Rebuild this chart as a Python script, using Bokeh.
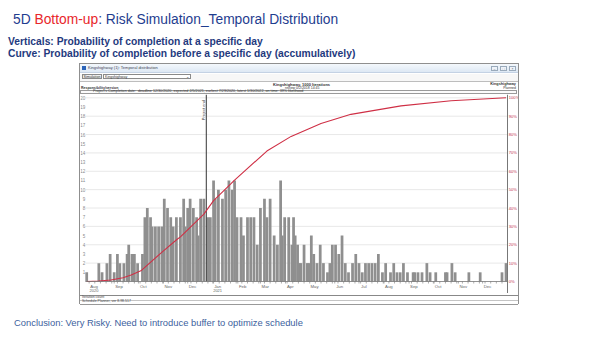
import pandas as pd
from bokeh.plotting import figure
from bokeh.models import Range1d, Div, Spacer
from bokeh.layouts import column, row
from bokeh.embed import file_html
from bokeh.resources import INLINE

# ---------------- data ----------------
earliest = "2020-07-29"          # day 0 of the time axis (earliest completion)
# days after the earliest date, and the number of iterations finishing that day
bar_days = [0, 15, 19, 25, 29, 34, 38, 41, 46, 50, 52, 56, 59, 63, 69,
            72, 75, 79, 81, 85, 89, 93, 96, 100, 104, 107, 111, 116, 120, 122,
            125, 128, 132, 136, 138, 141, 145, 150, 153, 157, 159, 163, 168, 172,
            176, 180, 183, 186, 191, 194, 199, 203, 207, 211, 215, 220, 223, 227,
            232, 236, 240, 242, 245, 250, 254, 256, 258, 261, 263, 265, 269, 273,
            275, 278, 281, 285, 289, 293, 298, 301, 304, 308, 312, 316, 320, 324,
            329, 333, 337, 341, 345, 349, 353, 357, 361, 366, 370, 376, 380, 384,
            388, 392, 397, 404, 406, 410, 415, 421, 425, 432, 444, 446, 452, 456,
            473, 487, 514, 519]
bar_counts = [1, 2, 1, 2, 3, 1, 3, 2, 2, 3, 4, 3, 3, 2, 3,
              7, 8, 7, 6, 6, 6, 6, 9, 8, 7, 6, 7, 7, 9, 6,
              8, 9, 8, 7, 5, 9, 9, 7, 7, 11, 9, 10, 9, 10,
              11, 10, 11, 7, 7, 5, 7, 7, 7, 4, 8, 9, 7, 9,
              5, 4, 11, 5, 7, 7, 4, 7, 5, 4, 2, 2, 4, 2,
              2, 5, 3, 2, 4, 2, 1, 2, 4, 4, 3, 5, 2, 1,
              2, 3, 2, 1, 2, 2, 2, 2, 3, 1, 2, 1, 2, 1,
              1, 2, 1, 1, 1, 1, 1, 2, 1, 1, 1, 1, 2, 1,
              1, 1, 1, 2]
# cumulative probability of completion (curve), percent
curve_days = [0, 15, 30, 45, 55, 67, 95, 112, 116, 145, 157, 178, 182, 223,
              253, 290, 327, 389, 451, 519]
curve_pct = [0, 0.3, 0.8, 2, 3.5, 5.8, 16.7, 23, 24.3, 36.7, 44, 53, 54.8, 71,
             79, 86, 91, 95.6, 98.4, 100]
marker_day = 148                  # "Project end" line
month_names = ["Aug", "Sep", "Oct", "Nov", "Dec", "Jan", "Feb", "Mar", "Apr",
               "May", "Jun", "Jul", "Aug", "Sep", "Oct", "Nov", "Dec"]
first_month = "2020-08-01"
year_names = ["2020", "2021"]
year_starts = ["2020-08-01", "2021-01-01"]
count_ticks = list(range(1, 21))
pct_ticks = list(range(0, 101, 10))
window_days = (-1.5, 520.8)       # visible time window of the chart
count_top = 20.36                 # top of the count scale

# ---------------- geometry ----------------
W, H = 438, 199
LEFT_PX, RIGHT_PX, BAND_PX = 5, 11, 12
xs = (W - LEFT_PX - RIGHT_PX) / (window_days[1] - window_days[0])
ys = (H - BAND_PX) / count_top
x_range = Range1d(window_days[0] - LEFT_PX / xs, window_days[1] + RIGHT_PX / xs)
y0 = -BAND_PX / ys
y_range = Range1d(y0, count_top)

t0 = pd.Timestamp(earliest)
months = pd.date_range(first_month, periods=len(month_names), freq="MS")
month_days = [int(d) for d in (months - t0).days]
label_pos = [d + 6 for d in month_days]
year_pos = [int((pd.Timestamp(s) - t0).days) + 6 for s in year_starts]
weekly = list(range(month_days[0], int(window_days[1]), 7))
minor = sorted(set(weekly + month_days))

FONT = "Liberation Sans"

# ---------------- chart ----------------
p = figure(width=W, height=H, x_range=x_range, y_range=y_range,
           output_backend="svg", toolbar_location=None,
           x_axis_location=None, y_axis_location=None,
           min_border_left=0, min_border_right=0, min_border_top=0, min_border_bottom=0)
p.background_fill_color = "white"
p.border_fill_color = "white"
p.outline_line_color = None
p.grid.visible = False
p.extra_y_ranges = {"pct": Range1d(y0 * 5, count_top * 5)}

grid_levels = list(range(2, 21, 2))
p.segment(x0=window_days[0], x1=window_days[1], y0=grid_levels, y1=grid_levels,
          line_color="#e2e2e2", line_width=0.8)

p.vbar(x=bar_days, top=bar_counts, bottom=0, width=3.4,
       fill_color="#8f8f8f", line_color=None)

# marker line
p.segment(x0=marker_day, x1=marker_day, y0=0, y1=count_top, line_color="#333333", line_width=1)
p.text(x=marker_day, y=count_top - 0.6, text=["Project end"], angle=1.5708,
       text_align="right", text_baseline="bottom", x_offset=-0.5,
       text_font_size="4px", text_color="#444444", text_font={"value": FONT})

# cumulative curve
p.line(curve_days, curve_pct, y_range_name="pct", line_color="#cf2f45", line_width=1.1)

# axes drawn in data space
p.segment(x0=window_days[0], x1=window_days[1], y0=0, y1=0, line_color="#777777", line_width=0.8)
p.segment(x0=window_days[1], x1=window_days[1], y0=y0, y1=count_top, line_color="#777777", line_width=1)
p.segment(x0=minor, x1=minor, y0=0, y1=-2 / ys, line_color="#777777", line_width=0.6)

p.text(x=window_days[0], y=count_ticks, text=[str(t) for t in count_ticks],
       text_align="right", text_baseline="middle", x_offset=-0.3,
       text_font_size="4.5px", text_color="#8a8a8a", text_font={"value": FONT})
p.text(x=window_days[1], y=pct_ticks, y_range_name="pct", text=[f"{t}%" for t in pct_ticks],
       text_align="left", text_baseline="middle", x_offset=1.3,
       text_font_size="4.1px", text_color="#c2334d", text_font={"value": FONT})
p.text(x=label_pos, y=0, text=month_names, text_align="center", text_baseline="top",
       y_offset=2.5, text_font_size="4.3px", text_color="#666666", text_font={"value": FONT})
p.text(x=year_pos, y=0, text=year_names, text_align="center", text_baseline="top",
       y_offset=7.8, text_font_size="4px", text_color="#666666", text_font={"value": FONT})

# ---------------- slide texts & window chrome ----------------
title_html = f"""
<div style="position:relative;width:600px;height:64px;font-family:'{FONT}',Arial,sans-serif;">
 <div style="position:absolute;left:13px;top:12px;font-size:13.8px;line-height:16px;color:#1f3d8f;white-space:nowrap;">5D <span style="color:#e8262a">Bottom-up</span>: Risk Simulation_Temporal Distribution</div>
 <div style="position:absolute;left:8px;top:35.5px;font-size:10.3px;line-height:12px;font-weight:bold;color:#1f3a7e;white-space:nowrap;">Verticals: Probability of completion at a specific day<br>Curve: Probability of completion before a specific day (accumulatively)</div>
</div>"""

btn = "position:absolute;top:2px;width:7px;height:4.5px;border:0.5px solid #9aaabb;background:#eef3f9;font-size:3.5px;line-height:4.5px;text-align:center;color:#556;"
chrome_html = f"""
<div style="position:relative;width:438px;height:30px;background:#fff;font-family:'{FONT}',Arial,sans-serif;color:#333;overflow:hidden;">
 <div style="position:absolute;left:0;top:0;width:438px;height:9px;background:linear-gradient(#f4f8fc,#dde8f4);border-bottom:0.5px solid #c4d2e4;"></div>
 <div style="position:absolute;left:1.5px;top:2px;width:4px;height:4px;background:#2b63b8;"></div>
 <div style="position:absolute;left:8px;top:2.3px;font-size:4px;line-height:4px;white-space:nowrap;color:#445;">Kingshighway (1): Temporal distribution</div>
 <div style="{btn}left:411px;">&#8211;</div>
 <div style="{btn}left:420px;">&#9633;</div>
 <div style="{btn}left:429px;">&#215;</div>
 <div style="position:absolute;left:0;top:9.5px;width:438px;height:7.5px;background:#f7f7f7;"></div>
 <div style="position:absolute;left:2px;top:10px;width:20px;height:5px;border:0.5px solid #8a8a8a;background:#f1f1f1;font-size:3.6px;line-height:5px;text-align:center;">Simulation</div>
 <div style="position:absolute;left:23px;top:10px;width:88px;height:5px;border:0.5px solid #8a8a8a;background:#fff;font-size:3.6px;line-height:5px;white-space:nowrap;">&nbsp;Kingshighway<span style="position:absolute;right:1.5px;top:0;">&#8964;</span></div>
 <div style="position:absolute;left:0;top:17px;width:438px;height:0;border-top:1px solid #bdbdbd;"></div>
 <div style="position:absolute;left:193px;top:18.5px;font-size:4px;line-height:4px;font-weight:bold;white-space:nowrap;">Kingshighway, 1000 Iterations</div>
 <div style="position:absolute;left:205px;top:22.5px;font-size:3.5px;line-height:3.5px;white-space:nowrap;">review 0/2/2018 14:45</div>
 <div style="position:absolute;left:1px;top:22.5px;font-size:3.5px;line-height:3.5px;font-weight:bold;text-decoration:underline;white-space:nowrap;">Responsibility/version</div>
 <div style="position:absolute;right:2px;top:19px;font-size:3.8px;line-height:3.8px;font-weight:bold;white-space:nowrap;">Kingshighway</div>
 <div style="position:absolute;right:2px;top:22.5px;font-size:3.5px;line-height:3.5px;white-space:nowrap;">Planned</div>
 <div style="position:absolute;left:0;top:25.5px;width:437px;height:4px;border:0.5px solid #9a9a9a;background:#fbfbfb;"></div>
 <div style="position:absolute;left:13px;top:26.2px;font-size:3.7px;line-height:3.7px;white-space:nowrap;color:#333;">Project's Completion date:&nbsp; deadline 12/30/2020, expected 2/5/2021, earliest 7/29/2020, latest 1/30/2022, on time: 39% likelihood</div>
</div>"""

status_html = f"""
<div style="position:relative;width:438px;height:10px;background:#fff;font-family:'{FONT}',Arial,sans-serif;color:#444;overflow:hidden;">
 <div style="position:absolute;left:0;top:0;width:438px;height:0;border-top:0.7px solid #888;"></div>
 <div style="position:absolute;left:2px;top:1.2px;font-size:3.5px;line-height:3.5px;white-space:nowrap;">Iteration count</div>
 <div style="position:absolute;left:0;top:4.8px;width:438px;height:0;border-top:0.5px solid #c4c4c4;"></div>
 <div style="position:absolute;left:2px;top:5.4px;font-size:3.5px;line-height:3.5px;white-space:nowrap;">Schedule Planner, ver 8.98.517</div>
 <div style="position:absolute;left:0;top:9.2px;width:438px;height:0;border-top:0.7px solid #999;"></div>
</div>"""

concl_html = f"""
<div style="position:relative;width:600px;height:35px;font-family:'{FONT}',Arial,sans-serif;">
 <div style="position:absolute;left:14px;top:14px;font-size:9.4px;line-height:11px;color:#3d5f9e;white-space:nowrap;">Conclusion: Very Risky. Need to introduce buffer to optimize schedule</div>
</div>"""

title_div = Div(text=title_html, width=600, height=64, margin=0)
chrome_div = Div(text=chrome_html, width=438, height=30, margin=0)
status_div = Div(text=status_html, width=438, height=10, margin=0)
concl_div = Div(text=concl_html, width=600, height=35, margin=0)
p.margin = 0

window = column(chrome_div, p, status_div, spacing=0, margin=0,
                styles={"outline": "1px solid #8f8f8f"})
mid = row(Spacer(width=80, height=239, margin=0), window, Spacer(width=82, height=239, margin=0),
          spacing=0, margin=0)
page = column(title_div, mid, concl_div, spacing=0, margin=0)

open("out.html", "w").write(file_html(page, INLINE))
